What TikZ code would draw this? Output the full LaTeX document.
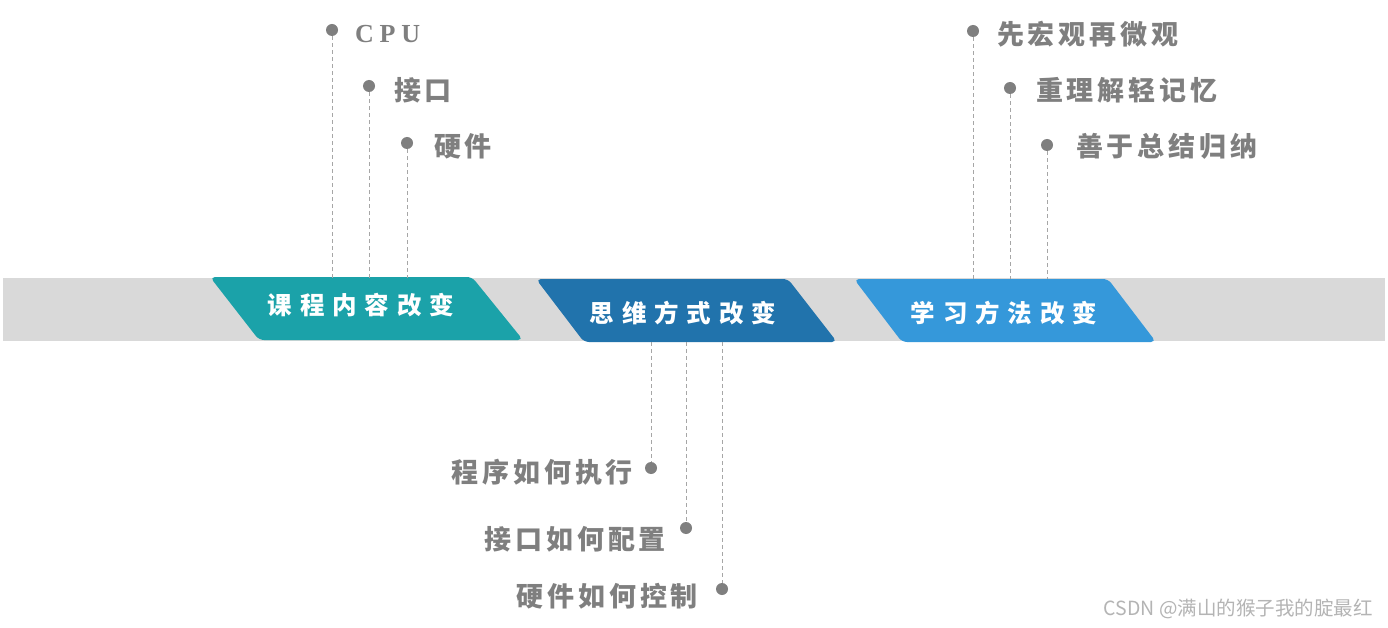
\documentclass[tikz,border=0pt]{standalone}
\usepackage{fontspec}
\newfontfamily\cjk{Noto Sans CJK SC}
\newfontfamily\cjklab[LetterSpace=14]{Noto Sans CJK SC}
\newfontfamily\cjkbox[LetterSpace=32]{Noto Sans CJK SC}
\newfontfamily\serlab[LetterSpace=22]{Liberation Serif}
\definecolor{band}{HTML}{D9D9D9}
\definecolor{tealc}{HTML}{1BA2A9}
\definecolor{bluec}{HTML}{2173AC}
\definecolor{skyc}{HTML}{3598DA}
\definecolor{labgray}{HTML}{7F7F7F}
\definecolor{dashgray}{HTML}{A6A6A6}
\definecolor{wmgray}{HTML}{B4B4B4}
\begin{document}
\begin{tikzpicture}[x=1pt,y=-1pt,
  dotnode/.style={circle,fill=labgray,inner sep=0pt,minimum size=12pt},
  leader/.style={draw=dashgray,line width=0.8pt,dash pattern=on 4pt off 3pt},
  lab/.style={inner sep=0pt,text=labgray,font=\cjklab\bfseries\fontsize{27}{30}\selectfont},
  boxtext/.style={inner sep=0pt,text=white,font=\cjkbox\bfseries\fontsize{24.5}{27}\selectfont},
  slant/.style={rounded corners=5pt}]
\useasboundingbox (0,0) rectangle (1388,628);
\fill[white] (0,0) rectangle (1388,628);
% band
\fill[band] (3,278) rectangle (1385,341);
% parallelograms
\fill[tealc,slant] (210,277) -- (472,277) -- (523,340) -- (259,340) -- cycle;
\fill[bluec,slant] (536,279) -- (788,279) -- (837,342) -- (584,342) -- cycle;
\fill[skyc,slant] (854,279) -- (1108,279) -- (1156,342) -- (902,342) -- cycle;
\node[boxtext] (b1) at (361,305) {课程内容改变};
\node[boxtext] (b2) at (683,313) {思维方式改变};
\node[boxtext] (b3) at (1004,313) {学习方法改变};
% top-left labels
\node[dotnode] (d1) at (332,30) {};
\node[dotnode] (d2) at (369,86) {};
\node[dotnode] (d3) at (407,143) {};
\coordinate (e1) at (332,278);
\coordinate (e2) at (369,278);
\coordinate (e3) at (407,278);
\draw[leader] (d1) -- (e1);
\draw[leader] (d2) -- (e2);
\draw[leader] (d3) -- (e3);
\node[lab,anchor=west,font=\serlab\bfseries\fontsize{26}{30}\selectfont] (t1) at (355,34) {CPU};
\node[lab,anchor=west] (t2) at (394,90) {接口};
\node[lab,anchor=west] (t3) at (434,146) {硬件};
% top-right labels
\node[dotnode] (d4) at (973,31) {};
\node[dotnode] (d5) at (1010,88) {};
\node[dotnode] (d6) at (1047,145) {};
\coordinate (e4) at (973,279);
\coordinate (e5) at (1010,279);
\coordinate (e6) at (1047,279);
\draw[leader] (d4) -- (e4);
\draw[leader] (d5) -- (e5);
\draw[leader] (d6) -- (e6);
\node[lab,anchor=west] (t4) at (997,34) {先宏观再微观};
\node[lab,anchor=west] (t5) at (1036,90) {重理解轻记忆};
\node[lab,anchor=west] (t6) at (1076,146) {善于总结归纳};
% bottom labels
\node[dotnode] (d7) at (651,468) {};
\node[dotnode] (d8) at (686,528) {};
\node[dotnode] (d9) at (722,589) {};
\coordinate (e7) at (651,342);
\coordinate (e8) at (686,342);
\coordinate (e9) at (722,342);
\draw[leader] (e7) -- (d7);
\draw[leader] (e8) -- (d8);
\draw[leader] (e9) -- (d9);
\node[lab,anchor=east] (t7) at (633,472) {程序如何执行};
\node[lab,anchor=east] (t8) at (666,539) {接口如何配置};
\node[lab,anchor=east] (t9) at (698,596) {硬件如何控制};
% watermark
\node[inner sep=0pt,anchor=east,text=wmgray,font=\cjk\fontsize{19.5}{22}\selectfont] (wm) at (1373,609) {CSDN @满山的猴子我的腚最红};
\end{tikzpicture}
\end{document}
